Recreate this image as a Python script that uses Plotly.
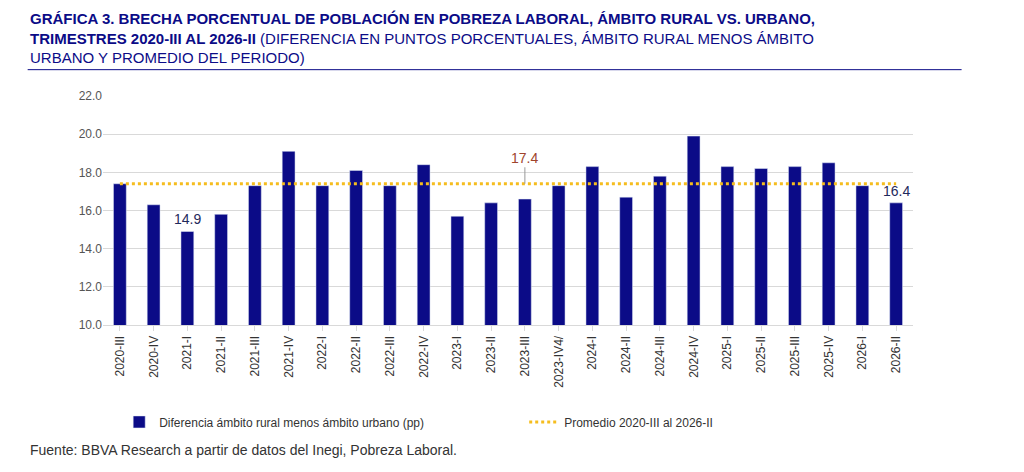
import plotly.graph_objects as go

categories = ["2020-III","2020-IV","2021-I","2021-II","2021-III","2021-IV","2022-I","2022-II","2022-III","2022-IV",
              "2023-I","2023-II","2023-III","2023-IV4/","2024-I","2024-II","2024-III","2024-IV","2025-I","2025-II",
              "2025-III","2025-IV","2026-I","2026-II"]
values = [17.4,16.3,14.9,15.8,17.3,19.1,17.3,18.1,17.3,18.4,15.7,16.4,16.6,17.3,18.3,16.7,17.8,19.9,18.3,18.2,18.3,18.5,17.3,16.4]
average = 17.4

navy = "#0b0b87"
fig = go.Figure()
fig.add_bar(x=categories, y=values, marker_color=navy, width=0.38,
            name="Diferencia ámbito rural menos ámbito urbano (pp)")
fig.add_scatter(x=categories, y=[average]*len(categories), mode="lines",
                line=dict(color="#F5BD1F", width=3, dash="dot"),
                name="Promedio 2020-III al 2026-II")

for cat, v in [("2021-I", 14.9), ("2026-II", 16.4)]:
    fig.add_annotation(x=cat, y=v, text=f"{v}", showarrow=False, yshift=12,
                       font=dict(size=14, color="#1f2a5c"))
fig.add_annotation(x="2023-III", y=average, text=f"{average}", showarrow=True, arrowhead=0,
                   arrowcolor="#999999", ax=0, ay=-26, font=dict(size=14, color="#a0442c"))

fig.update_layout(
    width=1024, height=472, plot_bgcolor="white", paper_bgcolor="white",
    margin=dict(l=95, r=119, t=88, b=155),
    font=dict(family="Liberation Sans, Arial", color="#444444"),
    showlegend=True,
    legend=dict(orientation="h", x=0.02, xanchor="left", y=-0.36, yanchor="top",
                font=dict(size=12, color="#333333"), entrywidthmode="fraction", entrywidth=0.5),
    yaxis=dict(range=[10, 22], dtick=2, tickformat=".1f", gridcolor="#d9d9d9",
               tickfont=dict(size=12, color="#555555"), zeroline=False),
    xaxis=dict(tickangle=-90, tickfont=dict(size=12, color="#333333"), showline=True,
               linecolor="#d9d9d9", ticks="outside", tickcolor="#d9d9d9"),
)
fig.add_annotation(xref="paper", yref="paper", x=-0.093, y=1.385, xanchor="left", yanchor="top", align="left",
    showarrow=False, font=dict(size=15, color="#0b0b87"),
    text="<b>GRÁFICA 3. BRECHA PORCENTUAL DE POBLACIÓN EN POBREZA LABORAL, ÁMBITO RURAL VS. URBANO,</b><br>"
         "<b>TRIMESTRES 2020-III AL 2026-II</b> (DIFERENCIA EN PUNTOS PORCENTUALES, ÁMBITO RURAL MENOS ÁMBITO<br>"
         "URBANO Y PROMEDIO DEL PERIODO)")
fig.add_shape(type="line", xref="paper", yref="paper", x0=-0.093, x1=1.06, y0=1.115, y1=1.115,
              line=dict(color="#0b0b87", width=1))
fig.add_annotation(xref="paper", yref="paper", x=-0.093, y=-0.5, xanchor="left", yanchor="top",
    showarrow=False, font=dict(size=14, color="#333333"),
    text="Fuente: BBVA Research a partir de datos del Inegi, Pobreza Laboral.")
fig.write_html("out.html")
